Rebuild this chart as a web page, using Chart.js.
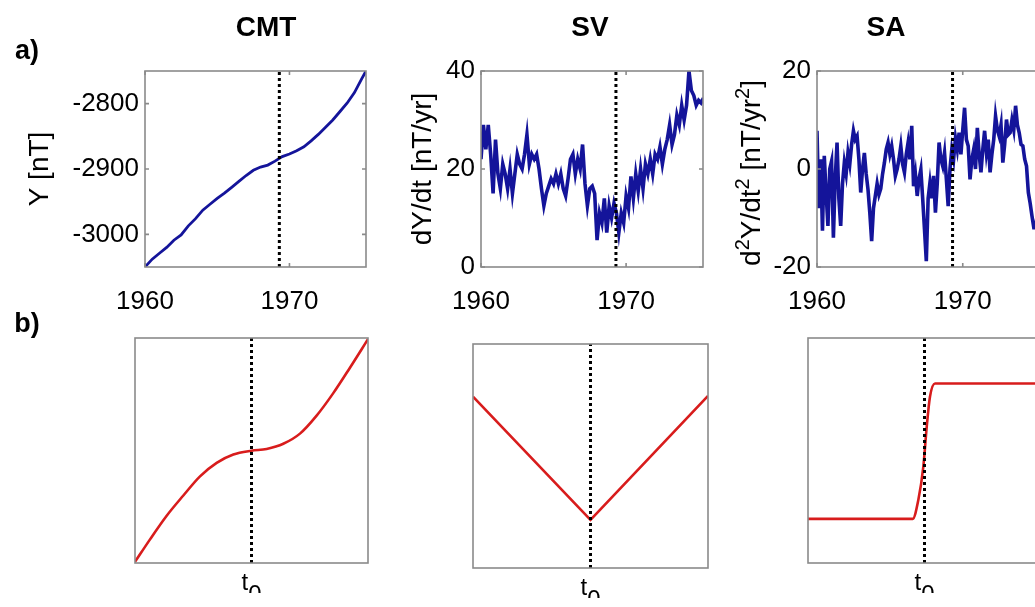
<!DOCTYPE html>
<html><head><meta charset="utf-8">
<script src="https://cdn.jsdelivr.net/npm/chart.js@4"></script>
<style>
html,body{margin:0;padding:0;background:#fff;overflow:hidden;width:1035px;height:607px;}
canvas{position:absolute;left:0;top:0;}
</style></head><body>
<canvas id="cCMT" width="1060" height="607"></canvas>
<canvas id="cSV" width="1060" height="607"></canvas>
<canvas id="cSA" width="1060" height="607"></canvas>
<canvas id="bCMT" width="1060" height="607"></canvas>
<canvas id="bSV" width="1060" height="607"></canvas>
<canvas id="bSA" width="1060" height="607"></canvas>
<script>
// ---------------- DATA ----------------
const yearTicks = [1960, 1970];
const t0Year = 1969.3;

const cmtYears = [1960.0,1960.5,1961.0,1961.5,1962.0,1962.5,1963.0,1963.5,1964.0,1964.5,1965.0,1965.5,1966.0,1966.5,1967.0,1967.5,1968.0,1968.5,1969.0,1969.5,1970.0,1970.5,1971.0,1971.5,1972.0,1972.5,1973.0,1973.5,1974.0,1974.5,1975.0,1975.3];
const cmtValues = [-3050,-3038,-3029,-3020,-3009,-3001,-2987,-2976,-2963,-2954,-2945,-2937,-2928,-2919,-2910,-2902,-2897,-2894,-2888,-2881,-2877,-2872,-2866,-2857,-2847,-2836,-2825,-2812,-2799,-2783,-2762,-2750];
const cmtTicks = [-3000, -2900, -2800];

// secular variation, one value every two months from 1960.0
const svValues = [22,29,24,29,23,15,26,19,16,21,19,16,20,15,19,23,21,20,23,27,21,23,22,23,20,16,12.5,15,16.5,18,17,19,17,19,16,14.5,18,22,23,19,22,20,25,17,12.5,16,16.5,15,5.5,11,9,14,7,12.5,10,13,11,7,11,9,14.5,12,18.5,14,19,15.5,20,16,21,19,22,19,23,22,24.5,21,24,26,29,25,27,31,29,33,30,33,40,36,35,33,34,33.5,34.5];
const svTicks = [0, 20, 40];

// secular acceleration, one value every 1.5 months from 1960.0
const saValues = [7.8,-8,2,-12.6,2.7,-5,-11.6,0,1.6,-14,-2,5.4,-6,-11.6,-3,1.3,-1,3.3,1,5,7.8,6,6.7,2,-4.8,0,3.3,-1,-4.2,-9,-14.7,-8,-5.5,-3,-5.2,-4,-1,1.3,4,5.4,3,4.7,2,-1.4,0,2,4.7,1,-0.7,3,5.4,2,8.8,-3.5,-1,-5.5,-2,-0.1,-6,-12.3,-18.8,-6,-2.8,-6,-1.4,-8.9,-3,5.4,2,0.6,3.3,-2,-7.6,0,4,2,6.3,4,7.4,3,8,12.5,6,4.7,-2.1,2,4,0,8.4,3,-0.7,4,7.8,3.3,6,-0.7,3,6,10.8,8,6.7,9,1.3,5,10.1,7,7.4,10,8,12.9,9,7.4,5,4.7,2,0.6,-4.8,-7,-9.6,-12,-12,-9,-8,-7];
const saTicks = [-20, 0, 20];

// schematic model (normalised time, t0 = 0)
const modelT0 = 0;
const modelCmtT = [-1,-0.871,-0.728,-0.585,-0.442,-0.299,-0.156,0,0.13,0.273,0.416,0.559,0.702,0.845,1];
const modelCmtV = [0.005,0.105,0.21,0.30,0.385,0.445,0.482,0.499,0.507,0.53,0.575,0.655,0.755,0.868,0.995];
const modelSvT = [-1, 0, 1];
const modelSvV = [0.765, 0.215, 0.768];
const modelSaT = [-1,-0.101,-0.053,-0.010,0.019,0.047,0.090,1];
const modelSaV = [0.196,0.196,0.280,0.428,0.605,0.739,0.798,0.798];
const t0Label = ['t  ', ' 0'];

// ---------------- STYLE / LAYOUT ----------------
const FONT = "'Liberation Sans', Arial, Helvetica, sans-serif";
Chart.defaults.font.family = FONT;
Chart.defaults.color = '#000';
const CW = 1060, CH = 607;
const TICK_SIZE = 26, YTITLE_SIZE = 28;
const BLUE = '#14149a', RED = '#d81c1c', FRAME = '#8a8a8a';

const framePlugin = {
  id: 'frame',
  afterDatasetsDraw(chart, args, opts) {
    const {ctx, chartArea: a} = chart;
    ctx.save();
    ctx.strokeStyle = FRAME;
    ctx.lineWidth = 1.6;
    ctx.strokeRect(a.left, a.top, a.right - a.left, a.bottom - a.top);
    if (opts.ticks) {
      const L = 4, xs = chart.scales.x, ys = chart.scales.y;
      ctx.beginPath();
      xs.ticks.forEach(t => {
        const p = xs.getPixelForValue(t.value);
        ctx.moveTo(p, a.top); ctx.lineTo(p, a.top + L);
        ctx.moveTo(p, a.bottom); ctx.lineTo(p, a.bottom - L);
      });
      ys.ticks.forEach(t => {
        const p = ys.getPixelForValue(t.value);
        ctx.moveTo(a.left, p); ctx.lineTo(a.left + L, p);
        ctx.moveTo(a.right, p); ctx.lineTo(a.right - L, p);
      });
      ctx.stroke();
    }
    ctx.restore();
  }
};
const headingPlugin = {
  id: 'headings',
  afterDraw(chart, args, opts) {
    const ctx = chart.ctx;
    (opts.items || []).forEach(it => {
      ctx.save();
      ctx.font = it.font;
      ctx.fillStyle = '#000';
      ctx.textAlign = 'center';
      ctx.textBaseline = 'middle';
      ctx.fillText(it.text, it.x, it.y);
      ctx.restore();
    });
  }
};
// rotated axis title with superscripts, centred on the y-axis box
const supTitlePlugin = {
  id: 'supTitle',
  afterDraw(chart, args, opts) {
    if (!opts.parts) return;
    const ctx = chart.ctx, ys = chart.scales.y;
    const base = YTITLE_SIZE + 'px ' + FONT, sup = '20px ' + FONT;
    ctx.save();
    let total = 0;
    opts.parts.forEach(p => { ctx.font = p[1] ? sup : base; total += ctx.measureText(p[0]).width; });
    const cx = ys.left + YTITLE_SIZE * 0.6, cy = (ys.top + ys.bottom) / 2 + 4;
    ctx.translate(cx, cy);
    ctx.rotate(-Math.PI / 2);
    ctx.fillStyle = '#000';
    ctx.textAlign = 'left';
    ctx.textBaseline = 'middle';
    let x = -total / 2;
    opts.parts.forEach(p => {
      ctx.font = p[1] ? sup : base;
      ctx.fillText(p[0], x, p[1] ? -9 : 0);
      x += ctx.measureText(p[0]).width;
    });
    ctx.restore();
  }
};

function dashed(x, y0, y1) {
  return { data: [{x, y: y0}, {x, y: y1}], borderColor: '#000', borderWidth: 3,
           borderDash: [3, 3], pointRadius: 0 };
}

function topChart(id, o) {
  const ylh = YTITLE_SIZE * 1.2;
  const yW = o.area.left - (o.titleX - ylh / 2);
  const XH = 60;
  return new Chart(document.getElementById(id), {
    type: 'line',
    data: { datasets: [
      dashed(t0Year, o.yMin, o.yMax),
      { data: o.xs.map((x, i) => ({x, y: o.ys[i]})), borderColor: BLUE, borderWidth: o.lw,
        pointRadius: 0, tension: 0, borderJoinStyle: 'miter' }
    ]},
    options: {
      responsive: false, animation: false, devicePixelRatio: 1,
      layout: { padding: { left: o.area.left - yW, top: o.area.top,
                           right: CW - o.area.right, bottom: CH - o.area.bottom - XH } },
      plugins: { legend: {display: false}, tooltip: {enabled: false},
                 frame: {ticks: true}, headings: {items: o.headings || []},
                 supTitle: {parts: o.supTitle || null} },
      scales: {
        x: { type: 'linear', min: 1960, max: 1975.3,
             afterBuildTicks: s => { s.ticks = yearTicks.map(v => ({value: v})); },
             afterFit: s => { s.height = XH; },
             grid: {display: false, drawTicks: false}, border: {display: false},
             ticks: { font: {size: TICK_SIZE}, padding: 19, maxRotation: 0, autoSkip: false,
                      callback: v => String(v) } },
        y: { type: 'linear', min: o.yMin, max: o.yMax,
             afterBuildTicks: s => { s.ticks = o.yTicks.map(v => ({value: v})); },
             afterFit: s => { s.width = yW; },
             grid: {display: false, drawTicks: false}, border: {display: false},
             ticks: { font: {size: TICK_SIZE}, padding: 6, autoSkip: false, callback: v => String(v) },
             title: { display: !!o.yTitle, text: o.yTitle || '', font: {size: YTITLE_SIZE}, padding: {top: 0, bottom: 0} } }
      }
    },
    plugins: [framePlugin, headingPlugin, supTitlePlugin]
  });
}

function bottomChart(id, o) {
  const XH = 30;
  return new Chart(document.getElementById(id), {
    type: 'line',
    data: { datasets: [
      dashed(modelT0, 0, 1),
      { data: o.xs.map((x, i) => ({x, y: o.ys[i]})), borderColor: RED, borderWidth: 2.6,
        pointRadius: 0, cubicInterpolationMode: o.mode, tension: 0 }
    ]},
    options: {
      responsive: false, animation: false, devicePixelRatio: 1,
      layout: { padding: { left: o.area.left, top: o.area.top,
                           right: CW - o.area.right, bottom: CH - o.area.bottom - XH } },
      plugins: { legend: {display: false}, tooltip: {enabled: false},
                 frame: {ticks: false}, headings: {items: o.headings || []} },
      scales: {
        x: { type: 'linear', min: -1, max: 1,
             afterBuildTicks: s => { s.ticks = [{value: modelT0}]; },
             afterFit: s => { s.height = XH; },
             grid: {display: false, drawTicks: false}, border: {display: false},
             ticks: { font: {size: 24, lineHeight: 0.5}, padding: 14, maxRotation: 0, autoSkip: false,
                      callback: () => t0Label } },
        y: { type: 'linear', min: 0, max: 1, display: false }
      }
    },
    plugins: [framePlugin, headingPlugin]
  });
}

topChart('cCMT', { area: {left: 145, top: 71, right: 366, bottom: 267}, titleX: 40,
  xs: cmtYears, ys: cmtValues, yMin: -3050, yMax: -2750, yTicks: cmtTicks, lw: 2.8,
  yTitle: 'Y [nT]',
  headings: [{text: 'CMT', x: 266, y: 28, font: 'bold 28px ' + FONT},
             {text: 'a)', x: 27, y: 52, font: 'bold 27px ' + FONT}] });
topChart('cSV', { area: {left: 481, top: 71, right: 703, bottom: 267}, titleX: 423,
  xs: svValues.map((_, i) => 1960 + i / 6), ys: svValues, yMin: 0, yMax: 40, yTicks: svTicks, lw: 3.6,
  yTitle: 'dY/dt [nT/yr]',
  headings: [{text: 'SV', x: 590, y: 28, font: 'bold 28px ' + FONT}] });
topChart('cSA', { area: {left: 817, top: 71, right: 1040, bottom: 267}, titleX: 752,
  xs: saValues.map((_, i) => 1960 + i / 8), ys: saValues, yMin: -20, yMax: 20, yTicks: saTicks, lw: 3.6,
  supTitle: [['d',0],['2',1],['Y/dt',0],['2',1],[' [nT/yr',0],['2',1],[']',0]],
  headings: [{text: 'SA', x: 886, y: 28, font: 'bold 28px ' + FONT}] });

bottomChart('bCMT', { area: {left: 135, top: 338, right: 368, bottom: 563},
  xs: modelCmtT, ys: modelCmtV, mode: 'monotone',
  headings: [{text: 'b)', x: 27, y: 325, font: 'bold 27px ' + FONT}] });
bottomChart('bSV', { area: {left: 473, top: 344, right: 708, bottom: 568},
  xs: modelSvT, ys: modelSvV, mode: 'default' });
bottomChart('bSA', { area: {left: 808, top: 338, right: 1041, bottom: 563},
  xs: modelSaT, ys: modelSaV, mode: 'monotone' });
</script>
</body></html>
